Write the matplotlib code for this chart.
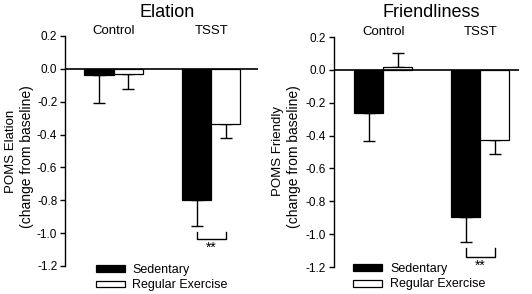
import matplotlib
matplotlib.use("Agg")
import matplotlib.pyplot as plt
from matplotlib.patches import Rectangle
import numpy as np

plt.rcParams['font.family'] = ['Liberation Sans', 'DejaVu Sans']

groups = ["Control", "TSST"]
series = ["Sedentary", "Regular Exercise"]
colors = ["black", "white"]

titles = ["Elation", "Friendliness"]
ylabels = ["POMS Elation\n(change from baseline)", "POMS Friendly\n(change from baseline)"]

elation_sed = [-0.04, -0.80]
elation_sed_err = [0.165, 0.155]
elation_ex = [-0.03, -0.335]
elation_ex_err = [0.09, 0.085]

friendly_sed = [-0.265, -0.895]
friendly_sed_err = [0.165, 0.155]
friendly_ex = [0.02, -0.425]
friendly_ex_err = [0.085, 0.09]

# significance bracket (y of bar, y of tick top) and star label y
sig_elation = (-1.035, -0.995, -1.09)
sig_friendly = (-1.14, -1.085, -1.19)

yticks = [0.2, 0.0, -0.2, -0.4, -0.6, -0.8, -1.0, -1.2]

W, H = 532, 294
fig = plt.figure(figsize=(W/100, H/100), dpi=100)

panels = [
    dict(rect=[65/W, 1-266/H, (258-65)/W, (266-36)/H], xlim=(-0.5, 1.48),
         sed=elation_sed, sed_err=elation_sed_err, ex=elation_ex, ex_err=elation_ex_err,
         sig=sig_elation, title=titles[0], title_x=167, ylabel=ylabels[0],
         ylab=[(11, 151), (26.7, 157)],
         leg_box=[(96, 268.3), (96, 284)], leg_txt=[(132.3, 272.7), (132.3, 288.3)]),
    dict(rect=[333.7/W, 1-267/H, (519-333.7)/W, (267-37)/H], xlim=(-0.51, 1.40),
         sed=friendly_sed, sed_err=friendly_sed_err, ex=friendly_ex, ex_err=friendly_ex_err,
         sig=sig_friendly, title=titles[1], title_x=431, ylabel=ylabels[1],
         ylab=[(277.7, 151), (294, 157)],
         leg_box=[(353, 267.3), (353, 283.3)], leg_txt=[(390.3, 271.7), (390.3, 286.7)]),
]

bw = 0.3
x = np.arange(len(groups))
for p in panels:
    ax = fig.add_axes(p['rect'])
    ax.set_xlim(*p['xlim'])
    ax.set_ylim(-1.2, 0.2)
    for vals, errs, col, off in [(p['sed'], p['sed_err'], colors[0], -bw/2),
                                 (p['ex'], p['ex_err'], colors[1], bw/2)]:
        ax.bar(x + off, vals, width=bw, color=col, edgecolor='black', linewidth=0.9, zorder=2)
        vals = np.array(vals)
        errs = np.array(errs)
        lower = np.where(vals < 0, errs, 0)
        upper = np.where(vals >= 0, errs, 0)
        ax.errorbar(x + off, vals, yerr=[lower, upper], fmt='none', ecolor='black',
                    elinewidth=1.0, capsize=4, capthick=1.0, zorder=1)
    ax.axhline(0, color='black', linewidth=1.2, zorder=3)
    # bracket
    yb, yt, ys = p['sig']
    xl, xr = x[1] - bw/2, x[1] + bw/2
    ax.plot([xl, xl, xr, xr], [yt, yb, yb, yt], color='black', linewidth=1.0, clip_on=False)
    ax.text(x[1], ys, "**", ha='center', va='center', fontsize=10)
    for i, g in enumerate(groups):
        ax.text(x[i], 0.21, g, ha='center', va='baseline', fontsize=9.5, clip_on=False)
    fig.text(p['title_x']/W, 1-16.7/H, p['title'], ha='center', va='baseline', fontsize=13)
    for s in ['top', 'right', 'bottom']:
        ax.spines[s].set_visible(False)
    ax.spines['left'].set_linewidth(1.0)
    ax.set_xticks([])
    ax.set_yticks(yticks)
    ax.set_yticklabels([f"{t:.1f}" for t in yticks])
    ax.tick_params(axis='y', direction='out', length=3.5, width=1.0, labelsize=8.5, pad=2)
    lines = p['ylabel'].split("\n")
    for (lx, ly), txt, fs in zip(p['ylab'], lines, [9.5, 10]):
        fig.text(lx/W, 1 - ly/H, txt, rotation=90, ha='center', va='center', fontsize=fs)
    # legend
    for (bx, by), (tx, ty), name, col in zip(p['leg_box'], p['leg_txt'], series, colors):
        fig.add_artist(Rectangle((bx/W, 1-(by+3.4)/H), 29/W, 6.8/H, facecolor=col,
                                 edgecolor='black', linewidth=0.9, transform=fig.transFigure))
        fig.text(tx/W, 1-ty/H, name, ha='left', va='baseline', fontsize=9)

fig.savefig("out.png", dpi=100)
